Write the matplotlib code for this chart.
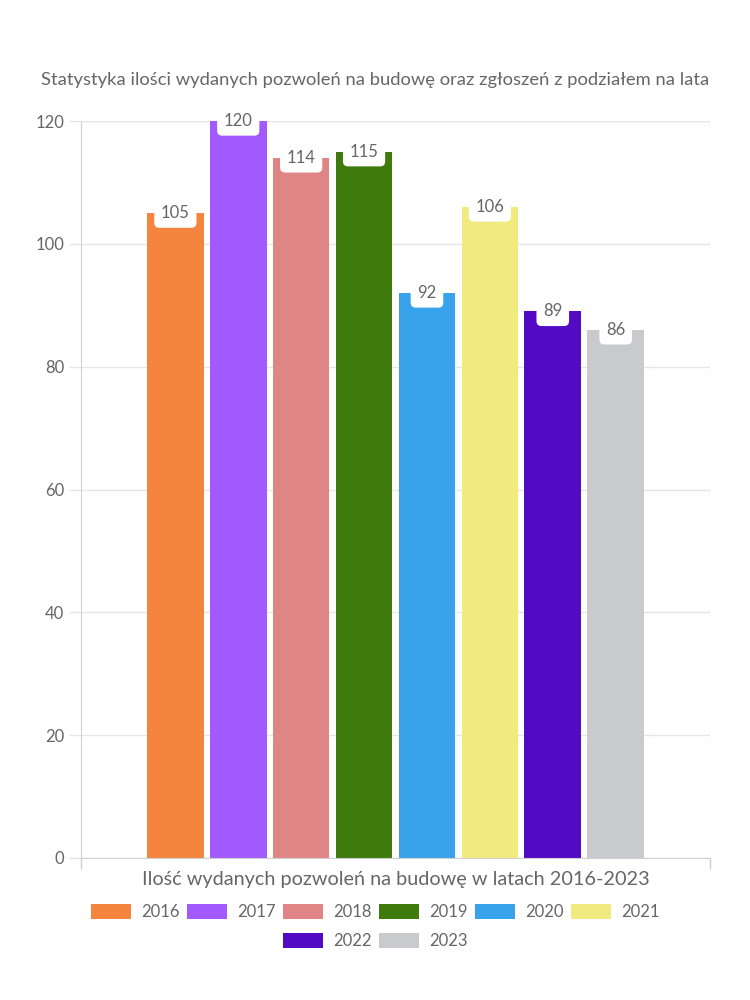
import matplotlib.pyplot as plt
from matplotlib.patches import Patch

years = ["2016", "2017", "2018", "2019", "2020", "2021", "2022", "2023"]
values = [105, 120, 114, 115, 92, 106, 89, 86]
colors = ["#f5843f", "#a259fd", "#e08585", "#3e7b0c", "#38a3eb",
          "#f0ea7f", "#520ac2", "#c9cacd"]
yticks = [0, 20, 40, 60, 80, 100, 120]

title = "Statystyka ilości wydanych pozwoleń na budowę oraz zgłoszeń z podziałem na lata"
xlabel = "Ilość wydanych pozwoleń na budowę w latach 2016-2023"

plt.rcParams['font.family'] = ['Lato', 'DejaVu Sans']
txt = "#666666"
grid = "#e6e6e6"

fig = plt.figure(figsize=(7.5, 10), dpi=100)
ax = fig.add_axes([0.108, 0.142, 0.8387, 0.737])

# one category, 8 series side by side (80% of category, 90% of each slot)
n = len(years)
for i, (y, v, c) in enumerate(zip(years, values, colors)):
    x = i - (n - 1) / 2
    ax.bar(x, v, width=0.9, color=c, zorder=2)
    ax.annotate(str(v), (x, v), ha="center", va="center", fontsize=12,
                color=txt, zorder=3, annotation_clip=False,
                bbox=dict(boxstyle="round,pad=0.4,rounding_size=0.3",
                          fc="white", ec="none"))

ax.set_xlim(-n / 0.8 / 2, n / 0.8 / 2)
ax.set_ylim(0, 120)
ax.set_yticks(yticks)
ax.set_xticks([-n / 0.8 / 2, n / 0.8 / 2])
ax.set_xticklabels([])
ax.tick_params(axis="y", colors=grid, labelcolor=txt, labelsize=12,
               length=9, width=1, pad=3)
ax.tick_params(axis="x", colors="#d0d0d0", length=8, width=1)
ax.grid(axis="y", color=grid, linewidth=1, zorder=0)
ax.set_axisbelow(True)
for s in ["top", "right"]:
    ax.spines[s].set_visible(False)
ax.spines["left"].set_color("#d0d0d0")
ax.spines["bottom"].set_color("#d0d0d0")
# top and right boundary lines
ax.axhline(120, color=grid, lw=1, zorder=0)
ax.axvline(ax.get_xlim()[1], color=grid, lw=1, zorder=0)

fig.text(0.528, 0.12, xlabel, ha="center", va="center", fontsize=14.3, color=txt)
fig.text(0.5, 0.92, title, ha="center", va="center", fontsize=13.2, color=txt)

handles = [Patch(facecolor=c, edgecolor="none") for c in colors]
opts = dict(loc="center", frameon=False, fontsize=12, labelcolor=txt,
            handlelength=2.4, handleheight=1.0, handletextpad=0.6,
            columnspacing=0.45)
fig.legend(handles[:6], years[:6], bbox_to_anchor=(0.5, 0.088), ncol=6, **opts)
fig.legend(handles[6:], years[6:], bbox_to_anchor=(0.5, 0.059), ncol=2, **opts)

fig.savefig("out.png", dpi=100)
